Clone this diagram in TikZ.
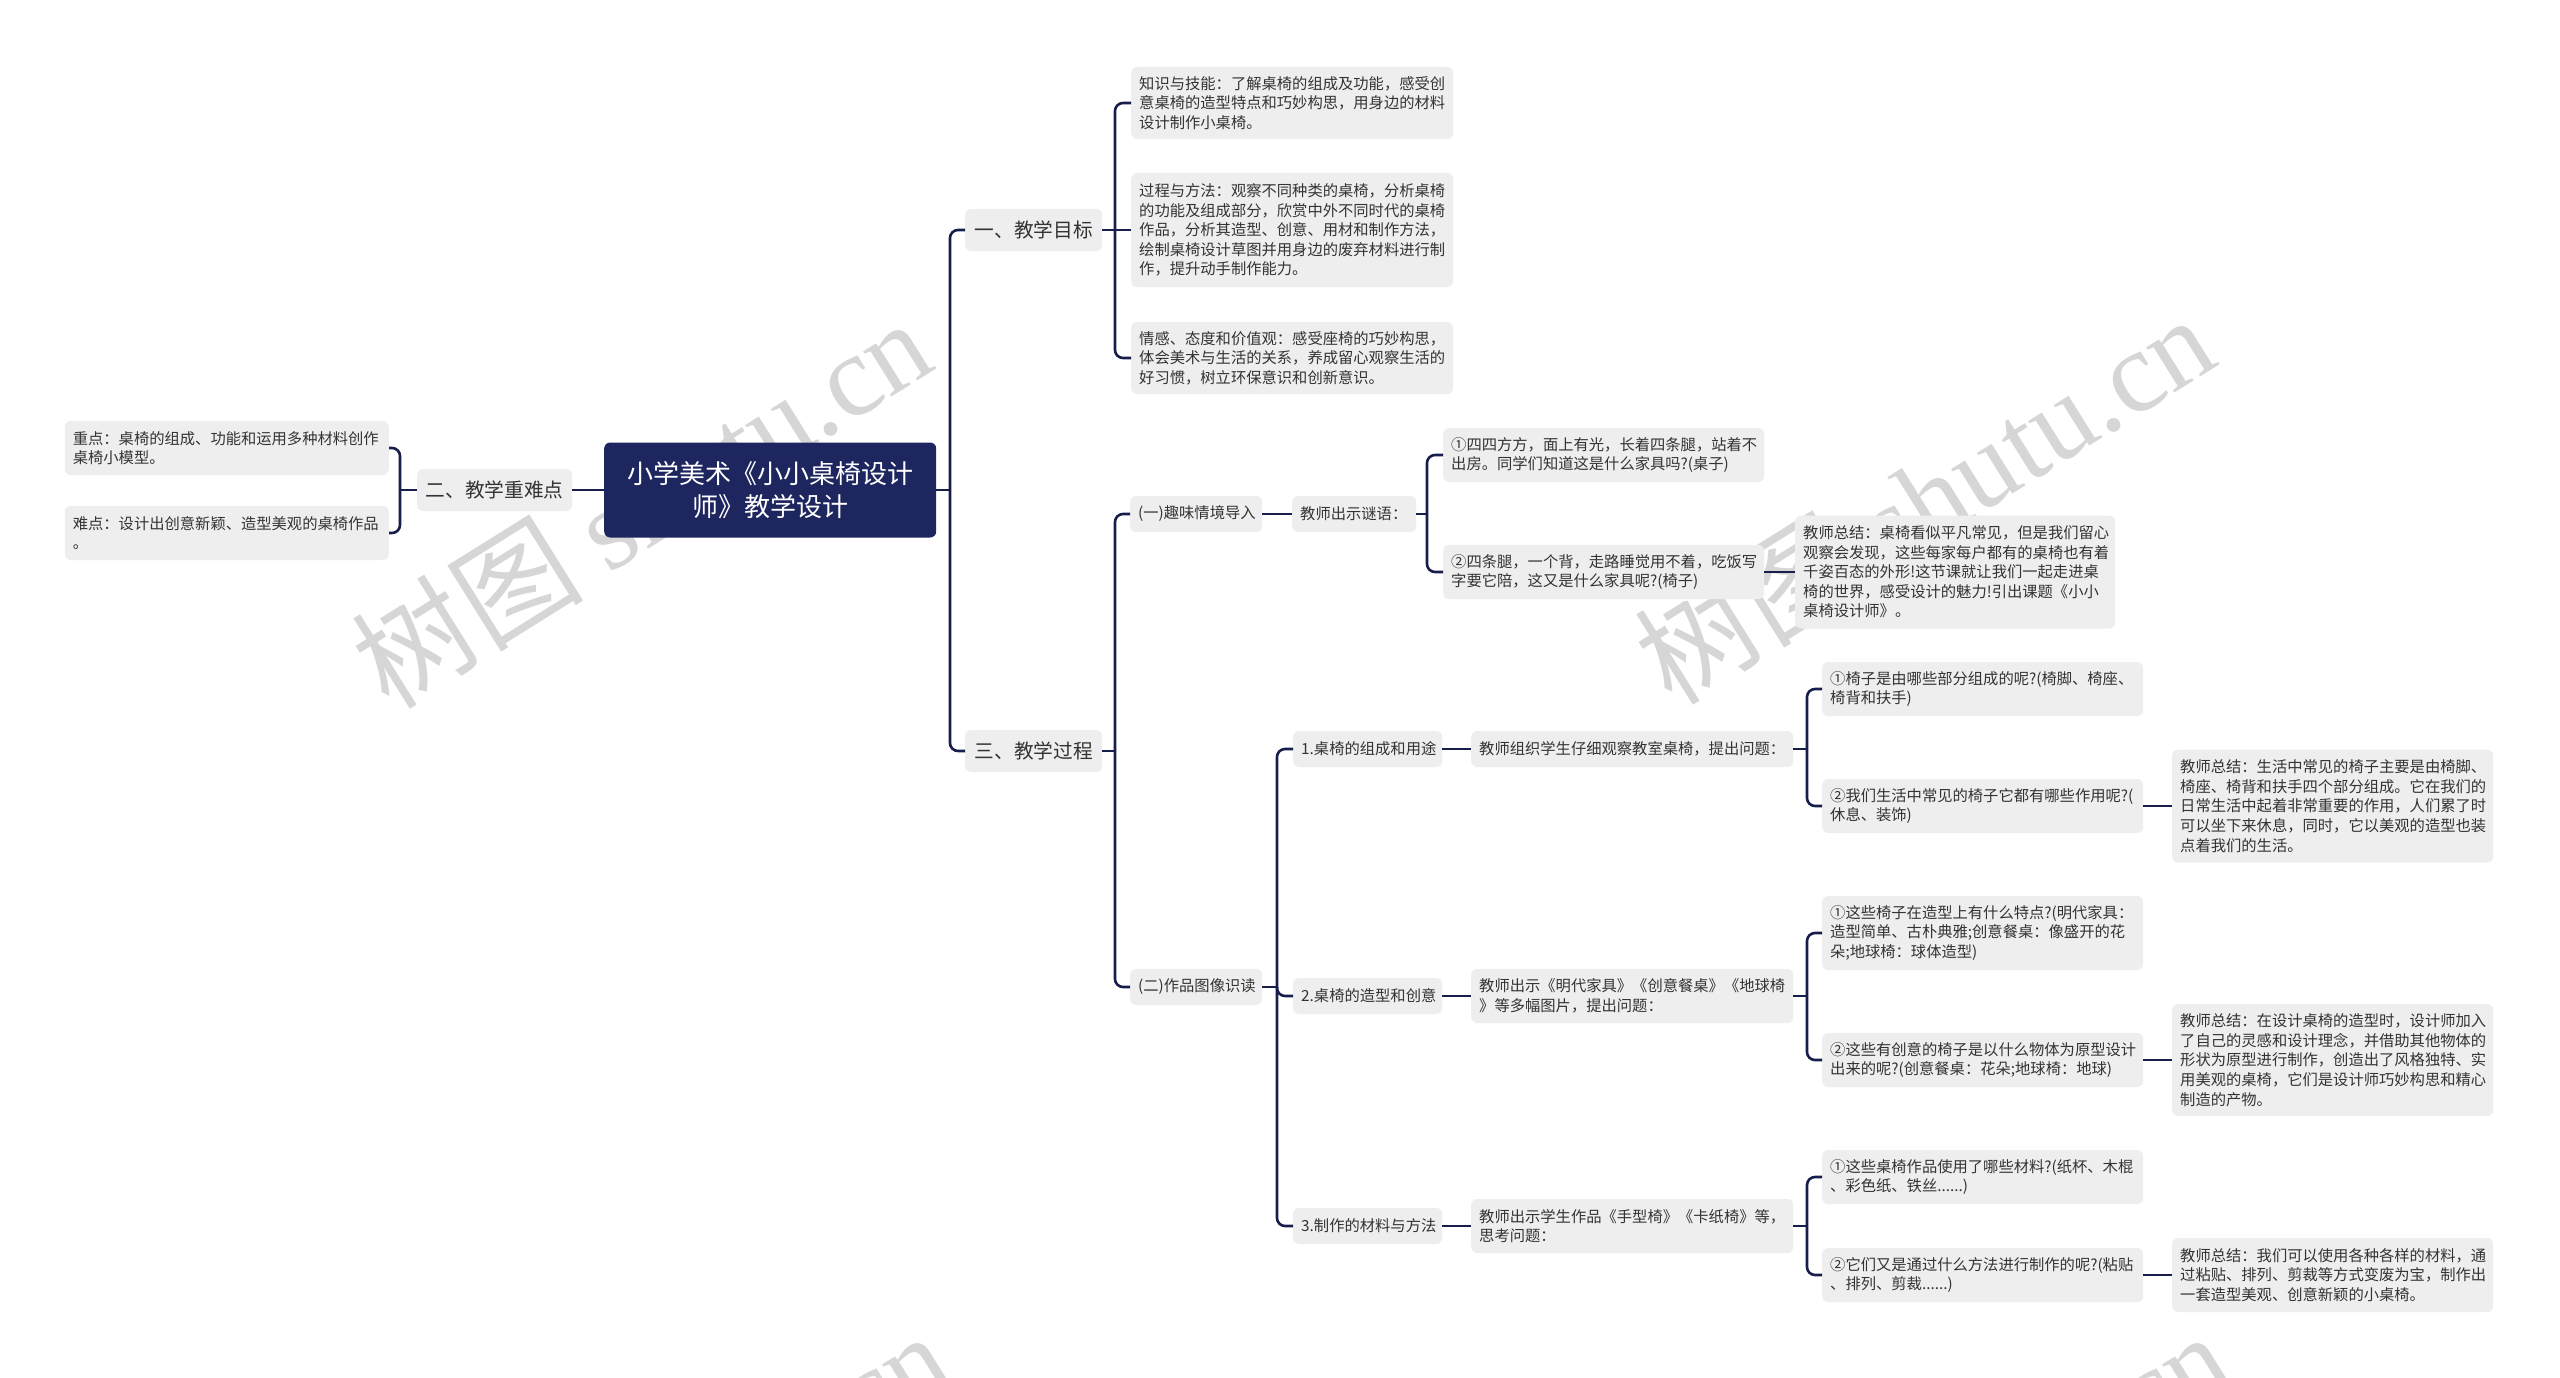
\documentclass[tikz,border=0pt]{standalone}
\usepackage{fontspec}
\setmainfont{Noto Sans CJK SC}
\newfontfamily\wmlatin{Liberation Serif}
\definecolor{navy}{RGB}{30,38,96}
\definecolor{conn}{RGB}{24,30,76}
\definecolor{boxfill}{RGB}{238,238,238}
\definecolor{txt}{RGB}{51,51,51}
\definecolor{wm}{RGB}{214,214,214}
\begin{document}
\begin{tikzpicture}[x=1pt,y=-1pt,
  box/.style={fill=boxfill, rounded corners=6pt, text=txt, font=\fontsize{15.3}{19.6}\selectfont, align=left, anchor=west, inner xsep=8pt, inner ysep=0pt},
  big/.style={fill=boxfill, rounded corners=6pt, text=txt, font=\fontsize{19.7}{24}\selectfont, align=center, anchor=west, inner sep=0pt},
  rootbox/.style={fill=navy, rounded corners=6pt, text=white, font=\fontsize{26}{33}\selectfont, align=center, anchor=west, inner sep=0pt, minimum width=332pt, minimum height=95pt},
  edgeline/.style={draw=conn, line width=2.6pt, rounded corners=8pt},
  wmark/.style={text=wm, font=\fontsize{116}{116}\selectfont, inner sep=0pt, rotate=32},
]
\useasboundingbox[fill=white] (0,0) rectangle (2560,1378);

% watermarks
\begin{scope}
\clip (0,0) rectangle (2560,1378);
\node[wmark] (wm1) at (641,502) {树图 {\wmlatin shutu.cn}};
\node[wmark] (wm2) at (1924,498) {树图 {\wmlatin shutu.cn}};
\node[wmark] (wm3) at (660,1515) {树图 {\wmlatin shutu.cn}};
\node[wmark] (wm4) at (1940,1515) {树图 {\wmlatin shutu.cn}};
\end{scope}

% root and level 1
\node[rootbox] (root) at (604,490) {小学美术《小小桌椅设计\\师》教学设计};
\node[big, minimum width=155pt, minimum height=42pt] (n2) at (417,490) {二、教学重难点};
\node[big, minimum width=137pt, minimum height=42pt] (n1) at (965,230) {一、教学目标};
\node[big, minimum width=137pt, minimum height=42pt] (n3) at (965,751) {三、教学过程};

% left side
\node[box, anchor=east, text width=308pt, minimum height=54pt] (k1) at (389,448) {重点：桌椅的组成、功能和运用多种材料创作\\桌椅小模型。};
\node[box, anchor=east, text width=308pt, minimum height=54pt] (k2) at (389,533) {难点：设计出创意新颖、造型美观的桌椅作品\\。};

% goals
\node[box, text width=306pt, minimum height=72pt] (g1) at (1131,103) {知识与技能：了解桌椅的组成及功能，感受创\\意桌椅的造型特点和巧妙构思，用身边的材料\\设计制作小桌椅。};
\node[box, text width=306pt, minimum height=114pt] (g2) at (1131,230) {过程与方法：观察不同种类的桌椅，分析桌椅\\的功能及组成部分，欣赏中外不同时代的桌椅\\作品，分析其造型、创意、用材和制作方法，\\绘制桌椅设计草图并用身边的废弃材料进行制\\作，提升动手制作能力。};
\node[box, text width=306pt, minimum height=72pt] (g3) at (1131,358) {情感、态度和价值观：感受座椅的巧妙构思，\\体会美术与生活的关系，养成留心观察生活的\\好习惯，树立环保意识和创新意识。};

% process
\node[box, text width=116pt, minimum height=36pt] (p1) at (1130,514) {(一)趣味情境导入};
\node[box, text width=116pt, minimum height=36pt] (p2) at (1130,987) {(二)作品图像识读};

\node[box, text width=108pt, minimum height=36pt] (q0) at (1292,514) {教师出示谜语：};
\node[box, text width=305pt, minimum height=54pt] (q1) at (1443,455) {①四四方方，面上有光，长着四条腿，站着不\\出房。同学们知道这是什么家具吗?(桌子)};
\node[box, text width=305pt, minimum height=54pt] (q2) at (1443,572) {②四条腿，一个背，走路睡觉用不着，吃饭写\\字要它陪，这又是什么家具呢?(椅子)};
\node[box, text width=304pt, minimum height=113pt] (qs) at (1795,572) {教师总结：桌椅看似平凡常见，但是我们留心\\观察会发现，这些每家每户都有的桌椅也有着\\千姿百态的外形!这节课就让我们一起走进桌\\椅的世界，感受设计的魅力!引出课题《小小\\桌椅设计师》。};

\node[box, text width=133pt, minimum height=36pt] (s1) at (1293,749) {1.桌椅的组成和用途};
\node[box, text width=133pt, minimum height=36pt] (s2) at (1293,996) {2.桌椅的造型和创意};
\node[box, text width=133pt, minimum height=36pt] (s3) at (1293,1226) {3.制作的材料与方法};

\node[box, text width=306pt, minimum height=36pt] (t1) at (1471,749) {教师组织学生仔细观察教室桌椅，提出问题：};
\node[box, text width=306pt, minimum height=54pt] (t2) at (1471,996) {教师出示《明代家具》《创意餐桌》《地球椅\\》等多幅图片，提出问题：};
\node[box, text width=306pt, minimum height=54pt] (t3) at (1471,1226) {教师出示学生作品《手型椅》《卡纸椅》等，\\思考问题：};

\node[box, text width=305pt, minimum height=54pt] (u11) at (1822,689) {①椅子是由哪些部分组成的呢?(椅脚、椅座、\\椅背和扶手)};
\node[box, text width=305pt, minimum height=54pt] (u12) at (1822,806) {②我们生活中常见的椅子它都有哪些作用呢?(\\休息、装饰)};
\node[box, text width=305pt, minimum height=74pt] (u21) at (1822,933) {①这些椅子在造型上有什么特点?(明代家具：\\造型简单、古朴典雅;创意餐桌：像盛开的花\\朵;地球椅：球体造型)};
\node[box, text width=305pt, minimum height=54pt] (u22) at (1822,1060) {②这些有创意的椅子是以什么物体为原型设计\\出来的呢?(创意餐桌：花朵;地球椅：地球)};
\node[box, text width=305pt, minimum height=54pt] (u31) at (1822,1177) {①这些桌椅作品使用了哪些材料?(纸杯、木棍\\、彩色纸、铁丝......)};
\node[box, text width=305pt, minimum height=54pt] (u32) at (1822,1275) {②它们又是通过什么方法进行制作的呢?(粘贴\\、排列、剪裁......)};

\node[box, text width=305pt, minimum height=113pt] (v1) at (2172,806) {教师总结：生活中常见的椅子主要是由椅脚、\\椅座、椅背和扶手四个部分组成。它在我们的\\日常生活中起着非常重要的作用，人们累了时\\可以坐下来休息，同时，它以美观的造型也装\\点着我们的生活。};
\node[box, text width=305pt, minimum height=112pt] (v2) at (2172,1060) {教师总结：在设计桌椅的造型时，设计师加入\\了自己的灵感和设计理念，并借助其他物体的\\形状为原型进行制作，创造出了风格独特、实\\用美观的桌椅，它们是设计师巧妙构思和精心\\制造的产物。};
\node[box, text width=305pt, minimum height=74pt] (v3) at (2172,1275) {教师总结：我们可以使用各种各样的材料，通\\过粘贴、排列、剪裁等方式变废为宝，制作出\\一套造型美观、创意新颖的小桌椅。};

% junction points
\coordinate (jL) at (400,490);
\coordinate (jS) at (950,490);
\coordinate (j1) at (1115,230);
\coordinate (j3) at (1115,751);
\coordinate (jq) at (1427,514);
\coordinate (jp) at (1277,987);
\coordinate (jt1) at (1807,749);
\coordinate (jt2) at (1807,996);
\coordinate (jt3) at (1807,1226);

% connectors
\draw[edgeline] (n2.west) -- (jL);
\draw[edgeline] (root.west) -- (n2.east);
\draw[edgeline] (jL) |- (k1.east);
\draw[edgeline] (jL) |- (k2.east);

\draw[edgeline] (root.east) -- (jS);
\draw[edgeline] (jS) |- (n1.west);
\draw[edgeline] (jS) |- (n3.west);

\draw[edgeline] (n1.east) -- (j1);
\draw[edgeline] (j1) |- (g1.west);
\draw[edgeline] (j1) -- (g2.west);
\draw[edgeline] (j1) |- (g3.west);

\draw[edgeline] (n3.east) -- (j3);
\draw[edgeline] (j3) |- (p1.west);
\draw[edgeline] (j3) |- (p2.west);

\draw[edgeline] (p1.east) -- (q0.west);
\draw[edgeline] (q0.east) -- (jq);
\draw[edgeline] (jq) |- (q1.west);
\draw[edgeline] (jq) |- (q2.west);
\draw[edgeline] (q2.east) -- (qs.west);

\draw[edgeline] (p2.east) -- (jp);
\draw[edgeline] (jp) |- (s1.west);
\draw[edgeline] (jp) |- (s2.west);
\draw[edgeline] (jp) |- (s3.west);

\draw[edgeline] (s1.east) -- (t1.west);
\draw[edgeline] (s2.east) -- (t2.west);
\draw[edgeline] (s3.east) -- (t3.west);

\draw[edgeline] (t1.east) -- (jt1);
\draw[edgeline] (jt1) |- (u11.west);
\draw[edgeline] (jt1) |- (u12.west);
\draw[edgeline] (t2.east) -- (jt2);
\draw[edgeline] (jt2) |- (u21.west);
\draw[edgeline] (jt2) |- (u22.west);
\draw[edgeline] (t3.east) -- (jt3);
\draw[edgeline] (jt3) |- (u31.west);
\draw[edgeline] (jt3) |- (u32.west);

\draw[edgeline] (u12.east) -- (v1.west);
\draw[edgeline] (u22.east) -- (v2.west);
\draw[edgeline] (u32.east) -- (v3.west);
\end{tikzpicture}
\end{document}
